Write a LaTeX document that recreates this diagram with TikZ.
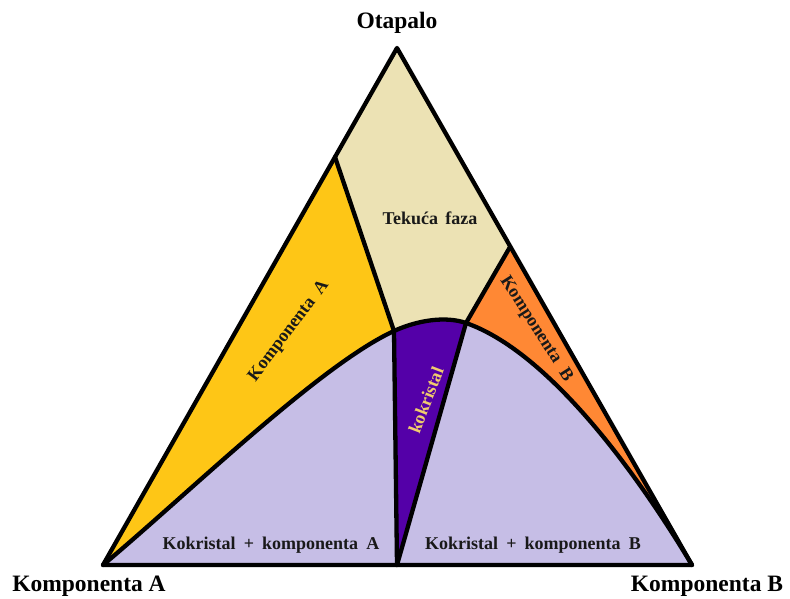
\documentclass[tikz,border=0pt]{standalone}
\usepackage{fontspec}
\setmainfont{Liberation Serif}
\definecolor{liquid}{RGB}{236,226,180}
\definecolor{compA}{RGB}{254,198,22}
\definecolor{compB}{RGB}{255,136,52}
\definecolor{lav}{RGB}{198,190,230}
\definecolor{cocr}{RGB}{84,0,168}
\definecolor{cocrtext}{RGB}{240,204,110}
\tikzset{
  border/.style={line width=4.3pt, line join=round, line cap=round, black},
  outerlabel/.style={font=\bfseries\fontsize{23.5}{26}\selectfont, inner sep=0pt},
  innerlabel/.style={font=\bfseries\fontsize{18}{20}\selectfont, inner sep=0pt, text=black!90},
}
\begin{document}
\begin{tikzpicture}[x=1pt,y=-1pt]
\useasboundingbox (0,0) rectangle (790,599);
% vertices and key points
\coordinate (A) at (103,565);
\coordinate (B) at (692,565);
\coordinate (C) at (397,48);
\coordinate (PL) at (335,157);
\coordinate (PR) at (510,247);
\coordinate (J1) at (394,331);
\coordinate (J2) at (466,323);
\coordinate (K) at (397,565);
% curve control points
\coordinate (a1) at (190,492);
\coordinate (a2) at (320,365);
\coordinate (b1) at (418,320);
\coordinate (b2) at (446,316);
\coordinate (c1) at (546,351);
\coordinate (c2) at (632,465);
% fills
\fill[liquid] (A) -- (C) -- (B) -- cycle;
\fill[compA] (A) -- (PL) -- (J1) .. controls (a2) and (a1) .. (A) -- cycle;
\fill[compB] (PR) -- (J2) .. controls (c1) and (c2) .. (B) -- cycle;
\fill[lav] (A) .. controls (a1) and (a2) .. (J1) .. controls (b1) and (b2) .. (J2) .. controls (c1) and (c2) .. (B) -- cycle;
\fill[cocr] (J1) .. controls (b1) and (b2) .. (J2) -- (K) -- cycle;
% lines
\draw[border] (A) .. controls (a1) and (a2) .. (J1) .. controls (b1) and (b2) .. (J2) .. controls (c1) and (c2) .. (B);
\draw[border] (PL) -- (J1);
\draw[border] (PR) -- (J2);
\draw[border] (J1) -- (K);
\draw[border] (J2) -- (K);
\draw[border] (A) -- (C) -- (B) -- cycle;
% labels
\node[outerlabel] (tC) at (397,23) {Otapalo};
\node[outerlabel] (tA) at (89,586) {Komponenta A};
\node[outerlabel] (tB) at (707,586) {Komponenta B};
\node[innerlabel] (tL) at (430,218) {Tekuća\hspace{0.4em}faza};
\node[innerlabel] (tKA) at (271,545) {Kokristal\hspace{0.45em}+\hspace{0.45em}komponenta\hspace{0.45em}A};
\node[innerlabel] (tKB) at (533,545) {Kokristal\hspace{0.45em}+\hspace{0.45em}komponenta\hspace{0.45em}B};
\node[innerlabel, rotate=53] (tRA) at (289,331) {Komponenta\hspace{0.5em}A};
\node[innerlabel, rotate=-57.5] (tRB) at (536,329) {Komponenta\hspace{0.5em}B};
\node[innerlabel, text=cocrtext, rotate=69] (tCo) at (426,400) {kokristal};
\end{tikzpicture}
\end{document}
